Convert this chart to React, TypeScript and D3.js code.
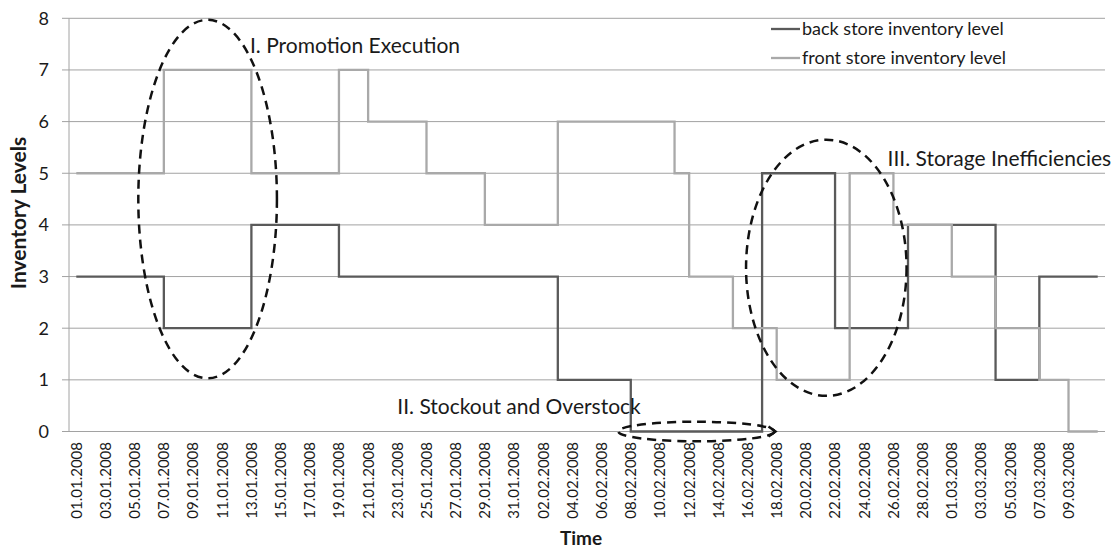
import React from "react";
import * as d3 from "d3";

// ---- data ----
const startDate = new Date(2008, 0, 1);
const endDate = new Date(2008, 2, 12); // exclusive -> 01.01.2008 .. 11.03.2008 (71 days)
const fmt = d3.timeFormat("%d.%m.%Y");
const dateLabels: string[] = d3.timeDay.range(startDate, endDate).map((d) => fmt(d));

// labelled categories on the time axis (every second day, last one 09.03.2008)
const xTickLabels = [
  "01.01.2008", "03.01.2008", "05.01.2008", "07.01.2008", "09.01.2008", "11.01.2008",
  "13.01.2008", "15.01.2008", "17.01.2008", "19.01.2008", "21.01.2008", "23.01.2008",
  "25.01.2008", "27.01.2008", "29.01.2008", "31.01.2008", "02.02.2008", "04.02.2008",
  "06.02.2008", "08.02.2008", "10.02.2008", "12.02.2008", "14.02.2008", "16.02.2008",
  "18.02.2008", "20.02.2008", "22.02.2008", "24.02.2008", "26.02.2008", "28.02.2008",
  "01.03.2008", "03.03.2008", "05.03.2008", "07.03.2008", "09.03.2008",
];

const yTicks = [0, 1, 2, 3, 4, 5, 6, 7, 8];

// step changes (index into dateLabels) and the level from that day on
const backDays = [0, 6, 12, 18, 33, 38, 47, 52, 57, 63, 66, 70];
const backLevels = [3, 2, 4, 3, 1, 0, 5, 2, 4, 1, 3, 3];

const frontDays = [0, 6, 12, 18, 20, 24, 28, 33, 41, 42, 45, 48, 53, 56, 60, 63, 66, 68, 70];
const frontLevels = [5, 7, 5, 7, 6, 5, 4, 6, 5, 3, 2, 1, 5, 4, 3, 2, 1, 0, 0];

const seriesNames = ["back store inventory level", "front store inventory level"];

// annotations: centre (day index, level), radii (days, levels)
const ellipses = [
  { cx: 9, cy: 4.5, rx: 4.75, ry: 3.47 },
  { cx: 42.5, cy: 0.0, rx: 5.35, ry: 0.19 },
  { cx: 51.4, cy: 3.17, rx: 5.5, ry: 2.48 },
];
const notes = [
  { text: "I. Promotion Execution", day: 11.9, level: 7.33 },
  { text: "II.  Stockout and Overstock", day: 22.0, level: 0.33 },
  { text: "III.  Storage Inefficiencies", day: 55.6, level: 5.15 },
];

const W = 1120;
const H = 550;
const M = { left: 69, right: 1105, top: 18.3, bottom: 431.5 };

const FONT = "Lato, 'Open Sans', sans-serif";
const BACK_COLOR = "#5a5a5a";
const FRONT_COLOR = "#a9a9a9";
const GRID = "#a2a2a2";

export default function App() {
  const n = dateLabels.length;
  const x = d3.scaleLinear().domain([-0.5, n - 0.5]).range([M.left, M.right]);
  const y = d3.scaleLinear().domain([0, 8]).range([M.bottom, M.top]);

  const line = d3
    .line<[number, number]>()
    .x((d) => x(d[0]))
    .y((d) => y(d[1]))
    .curve(d3.curveStepAfter);

  const backPts = backDays.map((d, i) => [d, backLevels[i]] as [number, number]);
  const frontPts = frontDays.map((d, i) => [d, frontLevels[i]] as [number, number]);

  const pxPerDay = x(1) - x(0);
  const pxPerLevel = y(0) - y(1);

  const e2 = ellipses[1];
  const arrowX = x(e2.cx) + e2.rx * pxPerDay;
  const arrowY = y(e2.cy);

  return (
    <svg
      width={W}
      height={H}
      style={{ position: "absolute", left: 0, top: 0, background: "#fff" }}
      fontFamily={FONT}
    >
      {/* gridlines */}
      {yTicks.filter((t) => t > 0).map((t) => (
        <line key={"g" + t} x1={M.left} x2={M.right} y1={y(t)} y2={y(t)} stroke={GRID} strokeWidth={1} />
      ))}
      {/* axes */}
      <line x1={M.left} x2={M.left} y1={M.top} y2={M.bottom} stroke={GRID} strokeWidth={1} />
      <line x1={M.left} x2={M.right} y1={M.bottom} y2={M.bottom} stroke={GRID} strokeWidth={1.2} />
      {yTicks.map((t) => (
        <g key={"yt" + t}>
          <line x1={M.left - 7} x2={M.left} y1={y(t)} y2={y(t)} stroke={GRID} strokeWidth={1} />
          <text x={49} y={y(t)} dy="0.36em" textAnchor="end" fontSize={18} fill="#1a1a1a">
            {t}
          </text>
        </g>
      ))}
      {xTickLabels.map((lab) => {
        const i = dateLabels.indexOf(lab);
        return (
          <text
            key={"xl" + lab}
            transform={`translate(${x(i)},442) rotate(-90)`}
            textAnchor="end"
            dy="0.36em"
            fontSize={15}
            fill="#1a1a1a"
          >
            {lab}
          </text>
        );
      })}

      {/* axis titles */}
      <text
        transform={`translate(19,213) rotate(-90)`}
        textAnchor="middle"
        dy="0.35em"
        fontSize={21}
        fontWeight="bold"
        fill="#1a1a1a"
      >
        Inventory Levels
      </text>
      <text x={581} y={545} textAnchor="middle" fontSize={19} fontWeight="bold" fill="#1a1a1a">
        Time
      </text>

      {/* series */}
      <path d={line(backPts) || ""} fill="none" stroke={BACK_COLOR} strokeWidth={2.3} />
      <path d={line(frontPts) || ""} fill="none" stroke={FRONT_COLOR} strokeWidth={2.3} />

      {/* legend */}
      {seriesNames.map((s, i) => (
        <g key={"lg" + i}>
          <line
            x1={771}
            x2={800}
            y1={29 + i * 29}
            y2={29 + i * 29}
            stroke={i === 0 ? BACK_COLOR : FRONT_COLOR}
            strokeWidth={2.3}
          />
          <text x={802} y={29 + i * 29} dy="0.35em" fontSize={18} fill="#1a1a1a">
            {s}
          </text>
        </g>
      ))}

      {/* annotations */}
      {ellipses.map((e, i) => (
        <ellipse
          key={"el" + i}
          cx={x(e.cx)}
          cy={y(e.cy)}
          rx={e.rx * pxPerDay}
          ry={e.ry * pxPerLevel}
          fill="none"
          stroke="#111"
          strokeWidth={2.5}
          strokeDasharray="9,6"
        />
      ))}
      <path
        d={`M${arrowX - 6},${arrowY - 5} L${arrowX + 1},${arrowY} L${arrowX - 6},${arrowY + 5}`}
        fill="none"
        stroke="#111"
        strokeWidth={2.5}
      />
      {notes.map((nt, i) => (
        <text key={"nt" + i} x={x(nt.day)} y={y(nt.level)} fontSize={21} fill="#1a1a1a">
          {nt.text}
        </text>
      ))}
    </svg>
  );
}
